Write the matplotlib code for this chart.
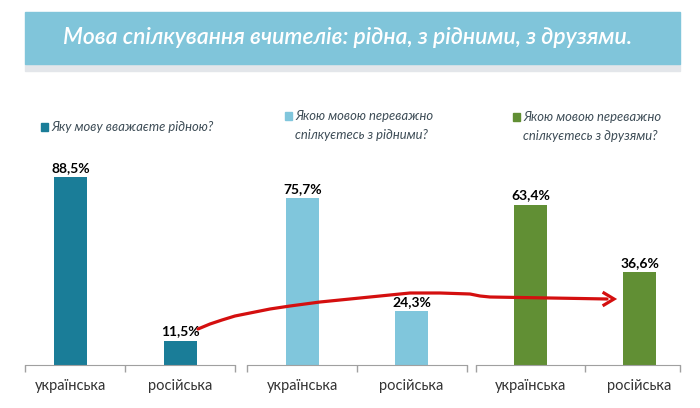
import matplotlib
matplotlib.use("Agg")
import matplotlib.pyplot as plt
from matplotlib.patches import Rectangle

plt.rcParams['font.family'] = ['Lato', 'DejaVu Sans']

title = "Мова спілкування вчителів: рідна, з рідними, з друзями."
categories = ["українська", "російська"]
questions = ["Яку мову вважаєте рідною?",
             "Якою мовою переважно\nспілкуєтесь з рідними?",
             "Якою мовою переважно\nспілкуєтесь з друзями?"]
native = [88.5, 11.5]
with_family = [75.7, 24.3]
with_friends = [63.4, 36.6]
groups = [native, with_family, with_friends]
colors = ["#1a7d98", "#80c6dc", "#618f34"]

W, H = 700, 408
fig = plt.figure(figsize=(7, 4.08), dpi=100)

def fx(x):
    return x / W

def fy(y):
    return 1 - y / H

# title banner
fig.patches.append(Rectangle((fx(25), fy(71)), fx(655), 7 / H, transform=fig.transFigure,
                             color="#e3e6ea", zorder=0))
fig.patches.append(Rectangle((fx(25), fy(64)), fx(655), 52 / H, transform=fig.transFigure,
                             color="#80c5da", zorder=1))
fig.text(fx(348), fy(38), title, color="white", fontsize=16.5, style="italic",
         fontweight="semibold", ha="center", va="center", zorder=2)

# axes layout (pixels): left, right, xlim, ylim top
layout = [(25, 235, (-0.415, 1.50), 125),
          (247, 467, (-0.51, 1.51), 120),
          (476, 680, (-0.50, 1.37), 104.7)]
legend_pos = [(41, 127), (285, 116), (513, 117)]

for vals, col, q, (l, r, xl, ytop), (lx, ly) in zip(groups, colors, questions, layout, legend_pos):
    ax = fig.add_axes([fx(l), fy(365), (r - l) / W, 265 / H])
    bars = ax.bar(range(len(vals)), vals, width=0.30, color=col)
    for b, v in zip(bars, vals):
        ax.text(b.get_x() + b.get_width() / 2, v + ytop * 0.012,
                f"{v:.1f}%".replace(".", ","), ha="center", va="bottom",
                fontsize=10, fontweight="bold", color="black")
    ax.set_xlim(*xl)
    ax.set_ylim(0, ytop)
    ax.set_xticks(range(len(categories)))
    ax.set_xticklabels(categories, fontsize=10.5, color="#333333")
    ax.tick_params(axis="x", which="major", length=0, pad=10)
    ax.set_xticks([xl[0] + 0.003, 0.5, xl[1] - 0.003], minor=True)
    ax.tick_params(axis="x", which="minor", length=5, color="#a0a0a0", width=1)
    ax.set_yticks([])
    for s in ["top", "left", "right"]:
        ax.spines[s].set_visible(False)
    ax.spines["bottom"].set_color("#a0a0a0")
    ax.patch.set_alpha(0)

    # legend square + question text
    fig.patches.append(Rectangle((fx(lx), fy(ly + 3.5)), 7 / W, 7 / H,
                                 transform=fig.transFigure, color=col))
    for i, line in enumerate(q.split("\n")):
        fig.text(fx(lx + 10), fy(ly + i * 19), line, fontsize=9.4, style="italic",
                 color="#3d4c56", ha="left", va="center")

# hand-drawn red arrow (figure pixels)
arrow_x = [198, 210, 222, 235, 250, 270, 290, 320, 350, 380, 410, 440, 470, 480, 490,
           520, 550, 580, 607]
arrow_y = [329, 324, 320, 316, 313, 309, 306, 302, 299, 296, 293, 293, 294, 296, 297,
           297.5, 298, 298.5, 299]
fig.lines.append(plt.Line2D([fx(x) for x in arrow_x], [fy(y) for y in arrow_y],
                            transform=fig.transFigure, color="#d40f0f", lw=2.3,
                            solid_capstyle="round", solid_joinstyle="round"))
fig.lines.append(plt.Line2D([fx(604), fx(614), fx(604)], [fy(293), fy(299), fy(305)],
                            transform=fig.transFigure, color="#d40f0f", lw=2.3,
                            solid_joinstyle="miter"))

fig.savefig("out.png", dpi=100, facecolor="white")
